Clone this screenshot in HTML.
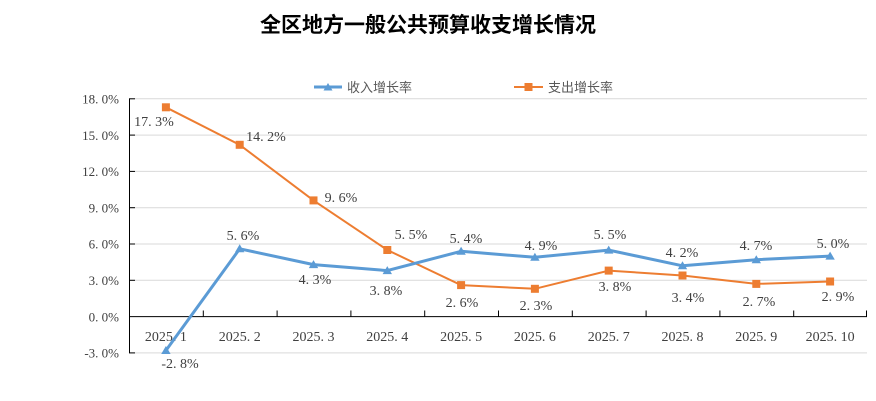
<!DOCTYPE html>
<html><head><meta charset="utf-8"><style>
html,body{margin:0;padding:0;background:#fff;}
svg{display:block;}
.t{font-family:"Liberation Serif","Noto Serif CJK SC",serif;font-size:14px;fill:#404040;}
.y{font-family:"Liberation Serif","Noto Serif CJK SC",serif;font-size:13px;fill:#404040;}
.lg{font-family:"Liberation Sans","Noto Sans CJK SC",sans-serif;font-size:13px;fill:#595959;}
.ti{font-family:"Liberation Sans","Noto Sans CJK SC",sans-serif;font-size:21px;font-weight:bold;fill:#000;}
</style></head><body>
<svg width="876" height="401" viewBox="0 0 876 401" xmlns="http://www.w3.org/2000/svg">
<text class="ti" x="428" y="32" text-anchor="middle">全区地方一般公共预算收支增长情况</text>
<!-- legend -->
<line x1="314" y1="87" x2="342" y2="87" stroke="#5B9BD5" stroke-width="3"/>
<polygon points="328,83 332.5,90.5 323.5,90.5" fill="#5B9BD5"/>
<text class="lg" x="347" y="92">收入增长率</text>
<line x1="514" y1="87" x2="543" y2="87" stroke="#ED7D31" stroke-width="2"/>
<rect x="524.5" y="83" width="8" height="8" fill="#ED7D31"/>
<text class="lg" x="548" y="92">支出增长率</text>
<!-- gridlines -->
<g stroke="#d9d9d9" stroke-width="1">
<line x1="129" y1="98.8" x2="867" y2="98.8"/>
<line x1="129" y1="135.1" x2="867" y2="135.1"/>
<line x1="129" y1="171.4" x2="867" y2="171.4"/>
<line x1="129" y1="207.7" x2="867" y2="207.7"/>
<line x1="129" y1="244.0" x2="867" y2="244.0"/>
<line x1="129" y1="280.3" x2="867" y2="280.3"/>
<line x1="129" y1="352.9" x2="867" y2="352.9"/>
</g>
<!-- axes -->
<line x1="129.5" y1="98.5" x2="129.5" y2="353" stroke="#000" stroke-width="1"/>
<g stroke="#000" stroke-width="1">
<line x1="129" y1="98.8" x2="135" y2="98.8"/>
<line x1="129" y1="135.1" x2="135" y2="135.1"/>
<line x1="129" y1="171.4" x2="135" y2="171.4"/>
<line x1="129" y1="207.7" x2="135" y2="207.7"/>
<line x1="129" y1="244.0" x2="135" y2="244.0"/>
<line x1="129" y1="280.3" x2="135" y2="280.3"/>
<line x1="129" y1="352.9" x2="135" y2="352.9"/>
<line x1="129" y1="316.6" x2="867" y2="316.6"/>
<line x1="203.3" y1="310.5" x2="203.3" y2="316.6"/>
<line x1="277.1" y1="310.5" x2="277.1" y2="316.6"/>
<line x1="350.9" y1="310.5" x2="350.9" y2="316.6"/>
<line x1="424.7" y1="310.5" x2="424.7" y2="316.6"/>
<line x1="498.5" y1="310.5" x2="498.5" y2="316.6"/>
<line x1="572.3" y1="310.5" x2="572.3" y2="316.6"/>
<line x1="646.1" y1="310.5" x2="646.1" y2="316.6"/>
<line x1="719.9" y1="310.5" x2="719.9" y2="316.6"/>
<line x1="793.7" y1="310.5" x2="793.7" y2="316.6"/>
<line x1="866.5" y1="310.5" x2="866.5" y2="316.6"/>
</g>
<!-- y labels -->
<g class="y" text-anchor="end">
<text x="119" y="103.5">18. 0%</text>
<text x="119" y="139.8">15. 0%</text>
<text x="119" y="176.1">12. 0%</text>
<text x="119" y="212.4">9. 0%</text>
<text x="119" y="248.7">6. 0%</text>
<text x="119" y="285">3. 0%</text>
<text x="119" y="321.3">0. 0%</text>
<text x="119" y="357.6">-3. 0%</text>
</g>
<!-- x labels -->
<g class="t" text-anchor="middle">
<text x="165.9" y="341">2025. 1</text>
<text x="239.7" y="341">2025. 2</text>
<text x="313.5" y="341">2025. 3</text>
<text x="387.3" y="341">2025. 4</text>
<text x="461.1" y="341">2025. 5</text>
<text x="534.9" y="341">2025. 6</text>
<text x="608.7" y="341">2025. 7</text>
<text x="682.5" y="341">2025. 8</text>
<text x="756.3" y="341">2025. 9</text>
<text x="830.1" y="341">2025. 10</text>
</g>
<!-- orange series -->
<polyline fill="none" stroke="#ED7D31" stroke-width="2" points="165.9,107.3 239.7,144.8 313.5,200.4 387.3,250.0 461.1,285.1 534.9,288.8 608.7,270.6 682.5,275.5 756.3,283.9 830.1,281.5"/>
<g fill="#ED7D31">
<rect x="161.9" y="103.3" width="8" height="8"/>
<rect x="235.7" y="140.8" width="8" height="8"/>
<rect x="309.5" y="196.4" width="8" height="8"/>
<rect x="383.3" y="246.0" width="8" height="8"/>
<rect x="457.1" y="281.1" width="8" height="8"/>
<rect x="530.9" y="284.8" width="8" height="8"/>
<rect x="604.7" y="266.6" width="8" height="8"/>
<rect x="678.5" y="271.5" width="8" height="8"/>
<rect x="752.3" y="279.9" width="8" height="8"/>
<rect x="826.1" y="277.5" width="8" height="8"/>
</g>
<!-- blue series -->
<polyline fill="none" stroke="#5B9BD5" stroke-width="3" stroke-linejoin="round" points="165.9,350.5 239.7,248.8 313.5,264.6 387.3,270.6 461.1,251.3 534.9,257.3 608.7,250.1 682.5,265.8 756.3,259.7 830.1,256.1"/>
<g fill="#5B9BD5">
<polygon points="165.9,346 170.6,354 161.2,354"/>
<polygon points="239.7,244.3 244.4,252.3 235,252.3"/>
<polygon points="313.5,260.1 318.2,268.1 308.8,268.1"/>
<polygon points="387.3,266.1 392,274.1 382.6,274.1"/>
<polygon points="461.1,246.8 465.8,254.8 456.4,254.8"/>
<polygon points="534.9,252.8 539.6,260.8 530.2,260.8"/>
<polygon points="608.7,245.6 613.4,253.6 604,253.6"/>
<polygon points="682.5,261.3 687.2,269.3 677.8,269.3"/>
<polygon points="756.3,255.2 761,263.2 751.6,263.2"/>
<polygon points="830.1,251.6 834.8,259.6 825.4,259.6"/>
</g>
<!-- data labels -->
<g class="t" text-anchor="middle">
<text x="180" y="368">-2. 8%</text>
<text x="243" y="240">5. 6%</text>
<text x="315" y="284">4. 3%</text>
<text x="386" y="295">3. 8%</text>
<text x="466" y="243">5. 4%</text>
<text x="541" y="250">4. 9%</text>
<text x="610" y="239">5. 5%</text>
<text x="682" y="257">4. 2%</text>
<text x="756" y="250">4. 7%</text>
<text x="833" y="248">5. 0%</text>
<text x="154" y="126">17. 3%</text>
<text x="266" y="141">14. 2%</text>
<text x="341" y="202">9. 6%</text>
<text x="411" y="239">5. 5%</text>
<text x="462" y="307">2. 6%</text>
<text x="536" y="310">2. 3%</text>
<text x="615" y="291">3. 8%</text>
<text x="688" y="302">3. 4%</text>
<text x="759" y="306">2. 7%</text>
<text x="838" y="301">2. 9%</text>
</g>
</svg>
</body></html>
